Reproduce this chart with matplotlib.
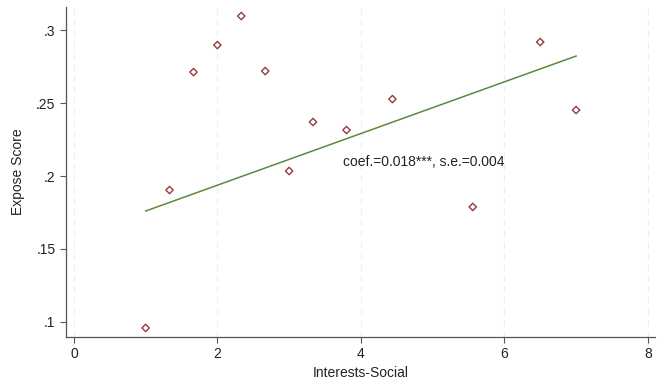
import matplotlib
matplotlib.use('Agg')
import matplotlib.pyplot as plt

# data
interest = [1.0, 1.333, 1.667, 2.0, 2.333, 2.667, 3.0, 3.333, 3.8, 4.44, 5.56, 6.5, 7.0]
expose = [0.0959, 0.1904, 0.2712, 0.2897, 0.3096, 0.2719, 0.2034, 0.2370, 0.2315,
          0.2527, 0.1788, 0.2918, 0.2452]
fit_x = [1.0, 7.0]
fit_y = [0.176, 0.2822]
x_ticks = [0, 2, 4, 6, 8]
y_ticks = [0.10, 0.15, 0.20, 0.25, 0.30]
y_labels = ['.1', '.15', '.2', '.25', '.3']
note = 'coef.=0.018***, s.e.=0.004'

plt.rcParams['font.family'] = ['Liberation Sans', 'DejaVu Sans']

fig = plt.figure(figsize=(6.62, 3.86), dpi=100)
ax = fig.add_axes([66 / 662, 1 - 337 / 386, (655 - 66) / 662, (337 - 7) / 386])

for xt in x_ticks:
    ax.axvline(xt, color='#eeeeee', lw=0.8, ls=(0, (6, 4)), zorder=0)

ax.plot(fit_x, fit_y, color='#5b8a3c', lw=1.1, zorder=2)
ax.scatter(interest, expose, marker='D', s=14, facecolors='none',
           edgecolors='#953b3f', linewidths=1.0, zorder=3)
ax.text(3.75, 0.2096, note, fontsize=10, va='center', ha='left', color='#222222')

ax.set_xlim(-0.11, 8.1)
ax.set_ylim(0.0897, 0.3158)
ax.set_xticks(x_ticks)
ax.set_yticks(y_ticks)
ax.set_yticklabels(y_labels)
ax.tick_params(labelsize=10, length=4, width=0.8, color='#555555', labelcolor='#222222')
for side in ['top', 'right']:
    ax.spines[side].set_visible(False)
for side in ['left', 'bottom']:
    ax.spines[side].set_color('#555555')
    ax.spines[side].set_linewidth(0.9)

ax.set_xlabel('Interests-Social', fontsize=10, color='#222222', labelpad=3)
ax.set_ylabel('Expose Score', fontsize=10, color='#222222', labelpad=8)

fig.savefig('out.png', dpi=100)
